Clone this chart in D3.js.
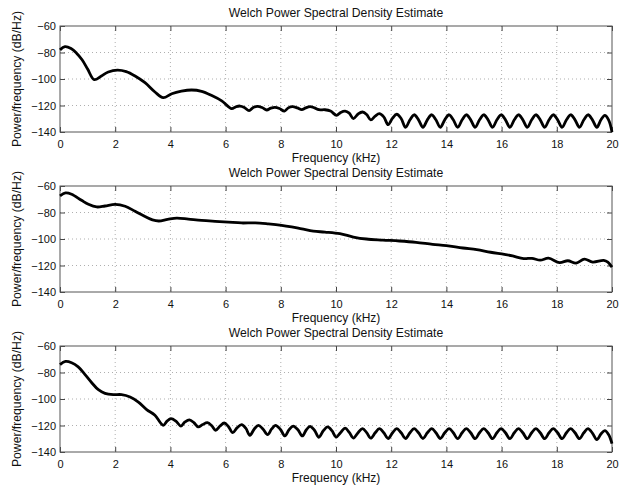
<!DOCTYPE html>
<html><head><meta charset="utf-8">
<script src="https://cdn.jsdelivr.net/npm/d3@7"></script>
<style>
body{margin:0;background:#fff}
text{font-family:"Liberation Sans",Arial,Helvetica,sans-serif;fill:#111}
</style>
</head><body>
<svg id="c" width="619" height="491"></svg>
<script>
const freqTicks = [0, 2, 4, 6, 8, 10, 12, 14, 16, 18, 20];
const dbTicks = [-140, -120, -100, -80, -60];
const titleText = "Welch Power Spectral Density Estimate";
const xLabelText = "Frequency (kHz)";
const yLabelText = "Power/frequency (dB/Hz)";

// [frequency kHz, dB/Hz]
const psd1 = [
 [0.00,-78.0],[0.18,-75.6],[0.40,-77.0],[0.60,-80.5],[0.80,-85.5],[1.00,-92.5],[1.24,-100.5],[1.50,-97.7],[1.75,-94.7],[2.08,-93.3],
 [2.40,-94.4],[2.72,-97.7],[3.08,-102.8],[3.44,-109.8],[3.74,-114.1],[4.05,-111.1],[4.40,-109.2],[4.77,-108.3],[5.13,-109.3],[5.50,-112.5],
 [5.86,-116.5],[6.22,-122.4],[6.37,-121.0],[6.52,-120.4],[6.68,-121.5],[6.85,-123.9],[7.00,-121.5],[7.16,-120.6],[7.32,-121.5],[7.49,-123.4],
 [7.64,-122.0],[7.79,-121.4],[7.95,-122.3],[8.13,-124.2],[8.27,-121.8],[8.42,-120.9],[8.60,-121.8],[8.76,-123.1],[8.90,-121.8],[9.06,-120.9],
 [9.22,-121.8],[9.38,-123.2],[9.60,-123.2],[9.80,-124.2],[10.02,-127.4],[10.17,-125.2],[10.33,-124.2],[10.48,-125.8],[10.63,-129.9],[10.80,-126.4],
 [10.96,-124.9],[11.11,-126.8],[11.26,-130.9],[11.42,-128.0],[11.57,-126.2],[11.73,-128.6],[11.89,-134.5],[12.05,-129.5],[12.20,-126.6],[12.36,-129.8],
 [12.52,-136.5],[12.68,-130.8],[12.83,-127.0],[12.99,-130.8],[13.15,-136.5],[13.31,-130.8],[13.47,-127.0],[13.62,-130.8],[13.78,-136.5],[13.94,-130.8],
 [14.10,-127.0],[14.25,-130.8],[14.41,-136.5],[14.57,-130.8],[14.72,-127.0],[14.88,-130.8],[15.04,-136.5],[15.20,-130.8],[15.35,-127.0],[15.51,-130.8],
 [15.67,-136.5],[15.83,-130.8],[15.98,-127.0],[16.14,-130.8],[16.30,-136.5],[16.46,-130.8],[16.61,-127.0],[16.77,-130.8],[16.93,-136.5],[17.09,-130.8],
 [17.24,-127.0],[17.40,-130.8],[17.56,-136.5],[17.72,-130.8],[17.87,-127.0],[18.03,-130.8],[18.19,-136.5],[18.35,-130.8],[18.50,-127.0],[18.66,-130.8],
 [18.82,-136.5],[18.98,-130.8],[19.13,-127.0],[19.29,-130.8],[19.45,-136.5],[19.60,-130.8],[19.74,-127.5],[19.88,-131.0],[20.00,-140.0]
];
const psd2 = [
 [0.00,-67.5],[0.20,-65.2],[0.42,-66.2],[0.78,-70.8],[1.03,-73.8],[1.33,-75.8],[1.63,-75.1],[2.00,-73.9],[2.36,-75.3],[2.72,-79.1],
 [3.08,-83.1],[3.35,-85.6],[3.58,-86.4],[3.90,-85.2],[4.23,-84.2],[4.65,-85.0],[5.13,-86.0],[5.62,-86.7],[6.10,-87.3],[6.58,-87.9],
 [7.07,-87.8],[7.55,-88.6],[8.03,-89.7],[8.39,-90.9],[8.76,-92.4],[9.18,-94.1],[9.60,-94.8],[10.14,-96.0],[10.63,-98.5],[11.10,-100.0],
 [11.70,-100.8],[12.30,-101.5],[12.90,-102.5],[13.50,-104.0],[14.00,-105.0],[14.60,-106.8],[15.10,-108.0],[15.60,-110.0],[16.10,-111.6],[16.40,-112.8],
 [16.80,-114.8],[17.10,-114.6],[17.40,-116.0],[17.70,-114.5],[18.10,-117.8],[18.40,-116.4],[18.70,-118.2],[19.00,-115.2],[19.30,-117.4],[19.70,-116.2],
 [19.85,-117.5],[20.00,-121.2]
];
const psd3 = [
 [0.00,-74.0],[0.20,-71.6],[0.42,-72.6],[0.66,-75.8],[0.90,-81.4],[1.15,-87.7],[1.39,-93.0],[1.63,-95.7],[1.93,-96.7],[2.23,-96.7],
 [2.54,-98.5],[2.84,-102.3],[3.14,-108.0],[3.44,-112.3],[3.74,-119.9],[3.88,-116.7],[4.02,-114.8],[4.20,-116.7],[4.38,-120.4],[4.53,-117.3],
 [4.69,-115.8],[4.85,-117.8],[5.01,-121.1],[5.17,-119.3],[5.34,-117.9],[5.50,-120.2],[5.64,-123.6],[5.80,-120.4],[5.95,-118.1],[6.10,-120.7],
 [6.26,-125.4],[6.42,-121.6],[6.58,-119.4],[6.73,-122.0],[6.88,-127.4],[7.04,-122.6],[7.19,-119.9],[7.35,-122.6],[7.52,-126.9],[7.67,-122.6],
 [7.81,-119.9],[7.98,-122.8],[8.15,-127.9],[8.30,-123.1],[8.45,-120.4],[8.62,-123.2],[8.78,-127.9],[8.92,-123.4],[9.06,-120.6],[9.22,-123.6],
 [9.38,-128.9],[9.54,-124.0],[9.70,-121.1],[9.86,-124.1],[10.00,-128.7],[10.17,-125.2],[10.33,-122.0],[10.48,-125.2],[10.63,-129.5],[10.80,-125.4],
 [10.96,-122.3],[11.11,-125.4],[11.26,-129.6],[11.42,-125.5],[11.57,-122.4],[11.73,-125.5],[11.89,-129.8],[12.05,-125.5],[12.20,-122.3],[12.36,-125.5],
 [12.52,-129.8],[12.68,-125.5],[12.83,-122.3],[12.99,-125.5],[13.15,-129.8],[13.31,-125.5],[13.47,-122.3],[13.62,-125.5],[13.78,-129.8],[13.94,-125.5],
 [14.10,-122.3],[14.25,-125.5],[14.41,-129.9],[14.57,-125.5],[14.72,-122.3],[14.88,-125.5],[15.04,-129.9],[15.20,-125.5],[15.35,-122.3],[15.51,-125.5],
 [15.67,-129.9],[15.83,-125.5],[15.98,-122.3],[16.14,-125.5],[16.30,-129.9],[16.46,-125.5],[16.61,-122.3],[16.77,-125.5],[16.93,-129.9],[17.09,-125.5],
 [17.24,-122.3],[17.40,-125.5],[17.56,-129.9],[17.72,-125.5],[17.87,-122.3],[18.03,-125.5],[18.19,-129.9],[18.35,-125.5],[18.50,-122.3],[18.66,-125.5],
 [18.82,-129.9],[18.98,-125.5],[19.13,-122.4],[19.29,-125.7],[19.45,-130.6],[19.60,-126.4],[19.74,-123.8],[19.88,-126.9],[20.00,-133.7]
];
const panels = [psd1, psd2, psd3];

const svg = d3.select("#c");
const left = 60, right = 612, ph = 106;
const tops = [26, 186, 346];
const x = d3.scaleLinear().domain([0, 20]).range([left, right]);

panels.forEach((data, i) => {
  const top = tops[i], bottom = top + ph;
  const y = d3.scaleLinear().domain([-140, -60]).range([bottom, top]);
  const g = svg.append("g");

  // grid
  g.append("g").selectAll("line").data(freqTicks.slice(1, -1)).join("line")
    .attr("x1", d => x(d)).attr("x2", d => x(d)).attr("y1", top).attr("y2", bottom)
    .attr("stroke", "#9a9a9a").attr("stroke-width", 0.8).attr("stroke-dasharray", "1,3");
  g.append("g").selectAll("line").data(dbTicks.slice(1, -1)).join("line")
    .attr("x1", left).attr("x2", right).attr("y1", d => y(d)).attr("y2", d => y(d))
    .attr("stroke", "#9a9a9a").attr("stroke-width", 0.8).attr("stroke-dasharray", "1,3");

  // axes (inward ticks)
  const axB = g.append("g").attr("transform", `translate(0,${bottom})`)
    .call(d3.axisBottom(x).tickValues(freqTicks).tickFormat(d3.format("d")).tickSizeInner(-5).tickSizeOuter(0).tickPadding(8.5));
  const axT = g.append("g").attr("transform", `translate(0,${top})`)
    .call(d3.axisTop(x).tickValues(freqTicks).tickFormat("").tickSizeInner(-5).tickSizeOuter(0));
  const axL = g.append("g").attr("transform", `translate(${left},0)`)
    .call(d3.axisLeft(y).tickValues(dbTicks).tickFormat(d3.format("d")).tickSizeInner(-5).tickSizeOuter(0).tickPadding(4));
  const axR = g.append("g").attr("transform", `translate(${right},0)`)
    .call(d3.axisRight(y).tickValues(dbTicks).tickFormat("").tickSizeInner(-5).tickSizeOuter(0));
  [axB, axT, axL, axR].forEach(a => {
    a.select(".domain").remove();
    a.selectAll("line").attr("stroke", "#444");
    a.selectAll("text").attr("font-size", 11).attr("fill", "#111")
      .style("font-family", '"Liberation Sans", Arial, sans-serif');
  });

  // box
  g.append("rect").attr("x", left).attr("y", top).attr("width", right - left).attr("height", ph)
    .attr("fill", "none").attr("stroke", "#555").attr("stroke-width", 1);

  // data
  g.append("path").datum(data)
    .attr("d", d3.line().x(d => x(d[0])).y(d => y(d[1])).curve(d3.curveCatmullRom.alpha(0.5)))
    .attr("fill", "none").attr("stroke", "#000").attr("stroke-width", 2.8)
    .attr("stroke-linejoin", "round").attr("stroke-linecap", "butt");

  // texts
  g.append("text").attr("x", (left + right) / 2).attr("y", top - 9)
    .attr("text-anchor", "middle").attr("font-size", 12.2).text(titleText);
  g.append("text").attr("x", (left + right) / 2).attr("y", bottom + 29.5)
    .attr("text-anchor", "middle").attr("font-size", 12).text(xLabelText);
  g.append("text").attr("transform", `translate(20.5,${(top + bottom) / 2}) rotate(-90)`)
    .attr("text-anchor", "middle").attr("font-size", 12.2).text(yLabelText);
});
</script>
</body></html>
